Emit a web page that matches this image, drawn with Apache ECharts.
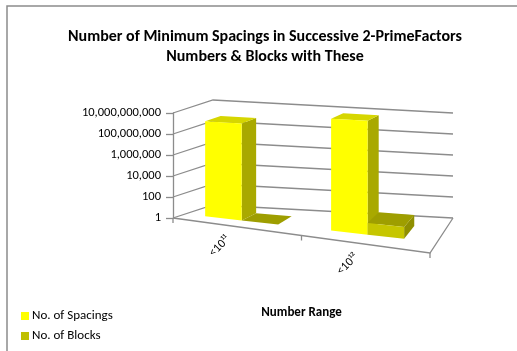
<!DOCTYPE html>
<html>
<head>
<meta charset="utf-8">
<script src="https://cdn.jsdelivr.net/npm/echarts@6/dist/echarts.min.js"></script>
<style>
  html, body { margin: 0; padding: 0; background: #fff; }
  #chart { width: 517px; height: 351px; }
</style>
</head>
<body>
<div id="chart"></div>
<script>
// Number ranges and the two counted quantities (log scale)
const categories = ['<10\u00B9\u00B9', '<10\u00B9\u00B2'];
const spacings = [9.0e8, 7.0e9];
const blocks = [1, 10];
// Value-axis ticks (powers of 100)
const yTicks = [1, 100, 1e4, 1e6, 1e8, 1e10];

const FONT = 'Carlito, Lato, "Liberation Sans", sans-serif';
const LINE = '#8c8c8c';

// Oblique projection of the flat grid into a tilted box:
// gx/gy are pixels from the axes, d is depth (0 front, 1 back).
function makeProj(api) {
  const c0 = api.coord([0, 1]);
  const c1 = api.coord([1, 1]);
  const band = c1[0] - c0[0];
  const left = c0[0] - band / 2;
  const width = band * categories.length;
  const floorY = c0[1];
  const P = function (gx, gy, d) {
    const u = (gx - left) / width;
    const h = floorY - gy;
    return [
      gx + d * (40 - 17 * u),
      floorY + 35 * u - d * (13 + 22 * u) - h * (1 + 0.2 * u * (1 - d))
    ];
  };
  return { P: P, band: band, left: left, width: width, floorY: floorY };
}

function wallsRender(params, api) {
  const pr = makeProj(api);
  const P = pr.P;
  const v = api.value(1);
  const gy = api.coord([0, v])[1];
  const L = pr.left, R = pr.left + pr.width;
  const children = [];
  const lineStyle = { stroke: LINE, lineWidth: 1.3, fill: null };
  children.push({
    type: 'polyline',
    shape: { points: [P(L, gy, 0), P(L, gy, 1), P(R, gy, 1)] },
    style: lineStyle
  });
  if (params.dataIndex === 0) {
    const fy = pr.floorY;
    children.push({
      type: 'polyline',
      shape: { points: [P(L, fy, 0), P(R, fy, 0), P(R, fy, 1)] },
      style: lineStyle
    });
    // category boundary ticks on the front edge
    for (let k = 0; k <= categories.length; k++) {
      const p = P(L + k * pr.band, fy, 0);
      children.push({
        type: 'line',
        shape: { x1: p[0], y1: p[1], x2: p[0], y2: p[1] + 5 },
        style: { stroke: LINE, lineWidth: 1.3 }
      });
    }
    // category labels under the front edge
    categories.forEach(function (name, i) {
      const cx = api.coord([i, 1])[0];
      const p = P(cx, fy, 0);
      children.push({
        type: 'text',
        x: p[0] - 9,
        y: p[1] + 11,
        rotation: Math.PI / 4,
        style: {
          text: name,
          align: 'right',
          verticalAlign: 'middle',
          font: '12px ' + FONT,
          fill: '#000'
        }
      });
    });
  }
  return { type: 'group', children: children };
}

function barRenderer(colors, side) {
  return function (params, api) {
    const pr = makeProj(api);
    const P = pr.P;
    const i = api.value(0);
    const val = api.value(1);
    const cx = api.coord([i, 1])[0];
    const gyF = api.coord([i, 1])[1];
    const gyT = api.coord([i, val])[1];
    const bw = pr.band * 0.29;
    const mid = cx - pr.band * 0.05;
    const x0 = side === 0 ? mid - bw : mid;
    const x1 = x0 + bw;
    const d0 = 0.3, d1 = 0.7;
    const front = [P(x0, gyF, d0), P(x1, gyF, d0), P(x1, gyT, d0), P(x0, gyT, d0)];
    const right = [P(x1, gyF, d0), P(x1, gyF, d1), P(x1, gyT, d1), P(x1, gyT, d0)];
    const top = [P(x0, gyT, d0), P(x1, gyT, d0), P(x1, gyT, d1), P(x0, gyT, d1)];
    return {
      type: 'group',
      children: [
        { type: 'polygon', shape: { points: right }, style: { fill: colors.side } },
        { type: 'polygon', shape: { points: top }, style: { fill: colors.top } },
        { type: 'polygon', shape: { points: front }, style: { fill: colors.front } }
      ]
    };
  };
}

const chart = echarts.init(document.getElementById('chart'), null, { renderer: 'canvas' });
chart.setOption({
  animation: false,
  backgroundColor: '#fff',
  textStyle: { fontFamily: FONT },
  graphic: [{
    type: 'rect',
    shape: { x: 7, y: 6, width: 600, height: 400 },
    style: { fill: null, stroke: '#8c8c8c', lineWidth: 1.5 },
    silent: true
  }],
  title: {
    text: 'Number of Minimum Spacings in Successive 2-PrimeFactors\nNumbers & Blocks with These',
    left: 265,
    textAlign: 'center',
    top: 27,
    padding: 0,
    textStyle: { fontFamily: FONT, fontSize: 16, fontWeight: 'bold', color: '#000', lineHeight: 20 }
  },
  legend: {
    data: ['No. of Spacings', 'No. of Blocks'],
    orient: 'vertical',
    left: 21,
    top: 309,
    padding: 0,
    itemWidth: 8,
    itemHeight: 8,
    itemGap: 6,
    icon: 'rect',
    textStyle: { fontFamily: FONT, fontSize: 13, color: '#000', lineHeight: 14, padding: [0, 0, 0, -2] }
  },
  grid: { left: 173, right: 87, top: 113, bottom: 133 },
  xAxis: {
    type: 'category',
    data: categories,
    axisLine: { show: false },
    axisTick: { show: false },
    axisLabel: { show: false },
    splitLine: { show: false },
    name: 'Number Range',
    nameLocation: 'middle',
    nameGap: 88,
    nameTextStyle: { fontFamily: FONT, fontSize: 13, fontWeight: 'bold', color: '#000' }
  },
  yAxis: {
    type: 'log',
    logBase: 10,
    min: 1,
    max: 1e10,
    interval: 2,
    axisLine: { show: true, lineStyle: { color: LINE, width: 1.3 } },
    axisTick: { show: true, length: 7, lineStyle: { color: LINE, width: 1.3 } },
    axisLabel: {
      margin: 12,
      fontFamily: FONT,
      fontSize: 12.5,
      color: '#000',
      formatter: function (v) { return Math.round(v).toLocaleString('en-US'); }
    },
    splitLine: { show: false }
  },
  series: [
    {
      type: 'custom',
      name: 'walls',
      silent: true,
      clip: false,
      renderItem: wallsRender,
      data: yTicks.map(function (t) { return [0, t]; }),
      z: 1
    },
    {
      type: 'custom',
      name: 'No. of Spacings',
      clip: false,
      itemStyle: { color: '#FFFF00' },
      renderItem: barRenderer({ front: '#FFFF00', top: '#D6D600', side: '#A9A900' }, 0),
      data: spacings.map(function (v, i) { return [i, v]; }),
      z: 2
    },
    {
      type: 'custom',
      name: 'No. of Blocks',
      clip: false,
      itemStyle: { color: '#BFBF00' },
      renderItem: barRenderer({ front: '#C6C600', top: '#9E9E00', side: '#8F8F00' }, 1),
      data: blocks.map(function (v, i) { return [i, v]; }),
      z: 3
    }
  ]
});
</script>
</body>
</html>
